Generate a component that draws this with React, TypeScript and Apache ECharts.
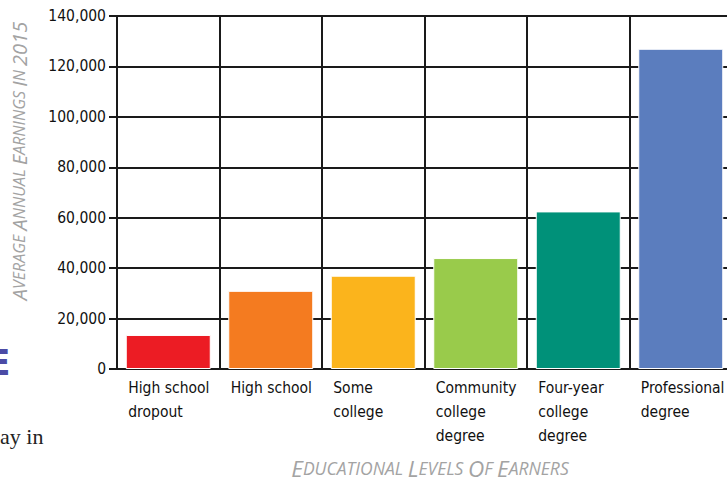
import React, { useEffect, useRef } from "react";
import * as echarts from "echarts";

const categories = [
  "High school\ndropout",
  "High school",
  "Some\ncollege",
  "Community\ncollege\ndegree",
  "Four-year\ncollege\ndegree",
  "Professional\ndegree",
];
const earnings = [13500, 31000, 37000, 44000, 62500, 127000];
const barColors = ["#ec1c24", "#f47b20", "#fbb41c", "#99cb4b", "#009179", "#5b7dbe"];
const yTicks = { min: 0, max: 140000, interval: 20000 };
const yAxisTitle = "AVERAGE ANNUAL EARNINGS IN 2015";
const xAxisTitle = "EDUCATIONAL LEVELS OF EARNERS";

const condensed =
  "'Liberation Sans Narrow', 'Arial Narrow', 'Noto Sans Condensed', 'DejaVu Sans Condensed', sans-serif";

function smallCaps(s: string): string {
  return s
    .split(" ")
    .map((w) => {
      if (/^[0-9]+$/.test(w)) return `{b|${w}}`;
      return `{b|${w[0]}}` + (w.length > 1 ? `{s|${w.slice(1)}}` : "");
    })
    .join("{s| }");
}

export default function App() {
  const ref = useRef<HTMLDivElement>(null);
  useEffect(() => {
    if (!ref.current) return;
    const chart = echarts.init(ref.current, undefined, { renderer: "svg" });
    const black = "#1a1a1a";
    const gray = "#a3a3a3";
    const mkRich = (big: number, small: number) => {
      const base = {
        lineHeight: big + 8,
        fontStyle: "italic",
        fontFamily: "Open Sans",
        fill: gray,
        color: gray,
      };
      return {
        b: { ...base, fontSize: big },
        s: { ...base, fontSize: small },
      };
    };
    chart.setOption({
      animation: false,
      backgroundColor: "#ffffff",
      grid: {
        left: 117,
        top: 16,
        width: 615,
        height: 353,
        containLabel: false,
        outerBoundsMode: "none",
      },
      xAxis: {
        type: "category",
        data: categories,
        boundaryGap: true,
        axisLine: { show: true, lineStyle: { color: black, width: 2 } },
        axisTick: { show: false },
        splitLine: { show: true, lineStyle: { color: black, width: 2 } },
        axisLabel: {
          interval: 0,
          margin: 7,
          align: "center",
          hideOverlap: false,
          formatter: (v: string) => v.split("\n").map((l) => `{a|${l}}`).join("\n"),
          rich: {
            a: {
              width: 80,
              align: "left",
              fontFamily: condensed,
              fontSize: 15.5,
              lineHeight: 24,
              color: "#111111",
            },
          },
        },
      },
      yAxis: {
        type: "value",
        min: yTicks.min,
        max: yTicks.max,
        interval: yTicks.interval,
        axisLine: { show: true, lineStyle: { color: black, width: 2 } },
        axisTick: { show: true, length: 8, lineStyle: { color: black, width: 2 } },
        splitLine: { show: true, lineStyle: { color: black, width: 2 } },
        axisLabel: {
          margin: 11,
          fontFamily: condensed,
          fontSize: 15.5,
          color: "#111111",
          formatter: (v: number) => v.toLocaleString("en-US"),
        },
      },
      series: [
        {
          type: "bar",
          data: earnings.map((v, i) => ({ value: v, itemStyle: { color: barColors[i] } })),
          barWidth: 85,
          itemStyle: { borderColor: "#ffffff", borderWidth: 1 },
        },
      ],
      graphic: [
        {
          type: "text",
          x: 19,
          y: 161,
          rotation: Math.PI / 2,
          style: {
            text: smallCaps(yAxisTitle),
            rich: mkRich(20, 16),
            fill: gray,
            align: "center",
            verticalAlign: "middle",
          },
        },
        {
          type: "text",
          x: 430,
          y: 468,
          style: {
            text: smallCaps(xAxisTitle),
            rich: mkRich(22.5, 17.5),
            fill: gray,
            align: "center",
            verticalAlign: "middle",
          },
        },
        {
          type: "text",
          x: -14,
          y: 362,
          style: {
            text: "E",
            fontSize: 36,
            fontWeight: "bold",
            fontFamily: "DejaVu Sans",
            fill: "#4b4ba5",
            verticalAlign: "middle",
          },
        },
        {
          type: "text",
          x: 0,
          y: 436,
          style: {
            text: "ay in",
            fontSize: 22,
            fontFamily: "Liberation Serif",
            fill: "#222222",
            verticalAlign: "middle",
          },
        },
      ],
    });
    return () => chart.dispose();
  }, []);
  return <div ref={ref} style={{ width: 727, height: 481, position: "absolute", left: 0, top: 0 }} />;
}
